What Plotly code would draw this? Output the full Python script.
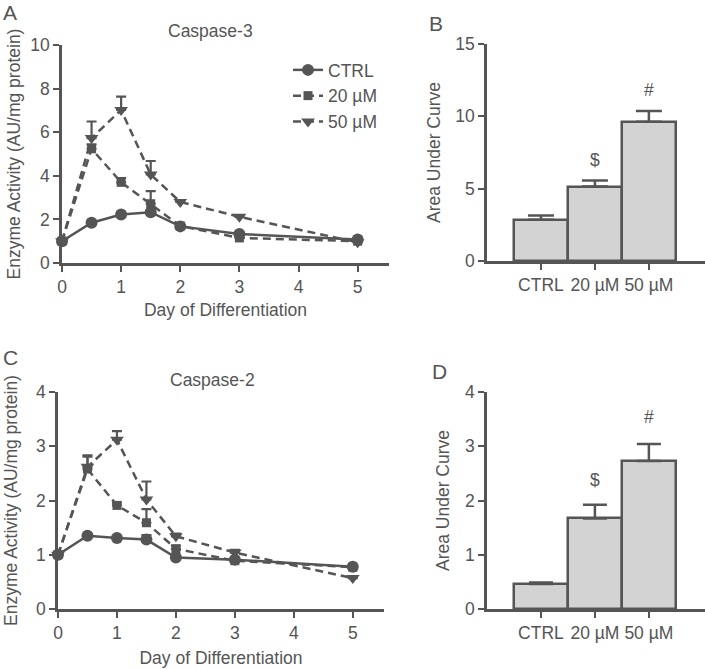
import plotly.graph_objects as go

# ---------------- data ----------------
days = [0, 0.5, 1, 1.5, 2, 3, 5]

# Panel A: Caspase-3 enzyme activity
casp3_ctrl = [1.0, 1.85, 2.22, 2.33, 1.68, 1.33, 1.08]
casp3_ctrl_err = [0.1, 0.08, 0.08, 0.1, 0.06, 0.05, 0.05]
casp3_20 = [1.0, 5.24, 3.70, 2.72, 1.70, 1.15, 1.0]
casp3_20_err = [0.05, 0.2, 0.2, 0.58, 0.05, 0.05, 0.05]
casp3_50 = [1.0, 5.73, 7.02, 4.06, 2.80, 2.12, 0.95]
casp3_50_err = [0.05, 0.76, 0.61, 0.62, 0.08, 0.08, 0.05]

# Panel C: Caspase-2 enzyme activity
casp2_ctrl = [1.0, 1.35, 1.31, 1.28, 0.95, 0.91, 0.78]
casp2_ctrl_err = [0.02, 0.03, 0.03, 0.08, 0.03, 0.03, 0.03]
casp2_20 = [1.0, 2.58, 1.91, 1.59, 1.11, 0.89, 0.77]
casp2_20_err = [0.02, 0.23, 0.05, 0.25, 0.06, 0.04, 0.03]
casp2_50 = [1.0, 2.62, 3.12, 2.02, 1.34, 1.04, 0.57]
casp2_50_err = [0.02, 0.21, 0.16, 0.33, 0.05, 0.05, 0.03]

# Panels B and D: area under curve
groups = ["CTRL", "20 µM", "50 µM"]
auc3 = [2.85, 5.15, 9.62]
auc3_err = [0.3, 0.42, 0.75]
auc3_sig = ["", "$", "#"]
auc3_sig_y = [0, 7.0, 11.8]
auc2 = [0.46, 1.67, 2.73]
auc2_err = [0.03, 0.25, 0.31]
auc2_sig = ["", "$", "#"]
auc2_sig_y = [0, 2.37, 3.54]

series_names = ["CTRL", "20 µM", "50 µM"]

# ---------------- style ----------------
INK = "#555555"
TXT = "#555555"
FONT = "Liberation Sans, Arial, sans-serif"
FS = 17.5

fig = go.Figure()

markers = {"CTRL": ("circle", 12), "20 µM": ("square", 9), "50 µM": ("triangle-down", 12)}
dashes = {"CTRL": "solid", "20 µM": "8px,5px", "50 µM": "8px,5px"}
ranks = {"CTRL": 1, "20 µM": 2, "50 µM": 3}


def add_lines(xa, ya, vals, errs, show_legend):
    # draw 50 first, CTRL on top
    for name in ["50 µM", "20 µM", "CTRL"]:
        sym, sz = markers[name]
        fig.add_trace(go.Scatter(
            x=days, y=vals[name], name=name, xaxis=xa, yaxis=ya,
            mode="lines+markers",
            line=dict(color=INK, width=2.5, dash=dashes[name]),
            marker=dict(symbol=sym, size=sz, color=INK),
            error_y=dict(type="data", array=errs[name], symmetric=False,
                         arrayminus=[0] * len(days), color=INK, thickness=2.2, width=5),
            cliponaxis=False, showlegend=show_legend, legendrank=ranks[name],
        ))


add_lines("x", "y",
          {"CTRL": casp3_ctrl, "20 µM": casp3_20, "50 µM": casp3_50},
          {"CTRL": casp3_ctrl_err, "20 µM": casp3_20_err, "50 µM": casp3_50_err}, True)
add_lines("x3", "y3",
          {"CTRL": casp2_ctrl, "20 µM": casp2_20, "50 µM": casp2_50},
          {"CTRL": casp2_ctrl_err, "20 µM": casp2_20_err, "50 µM": casp2_50_err}, False)


def add_bars(xa, ya, vals, errs, cap):
    fig.add_trace(go.Bar(
        x=[0, 1, 2], y=vals, xaxis=xa, yaxis=ya, width=1,
        marker=dict(color="#d3d3d3", line=dict(color=INK, width=2.5)),
        error_y=dict(type="data", array=errs, symmetric=False, arrayminus=[0, 0, 0],
                     color=INK, thickness=2.5, width=cap),
        showlegend=False, cliponaxis=False,
    ))


add_bars("x2", "y2", auc3, auc3_err, 13)
add_bars("x4", "y4", auc2, auc2_err, 12)

# ---------------- axes ----------------
W, H = 705, 669


def px_x(a, b):
    return [a / W, b / W]


def px_y(top, bottom):
    return [1 - bottom / H, 1 - top / H]


common = dict(showline=True, linecolor=INK, linewidth=2.5, ticks="outside", tickcolor=INK,
              tickwidth=2, ticklen=6, showgrid=False, zeroline=False, automargin=False,
              tickfont=dict(family=FONT, size=FS, color=TXT))
title_font = dict(family=FONT, size=FS, color=TXT)

fig.update_layout(
    xaxis=dict(common, domain=px_x(62, 389), range=[0, 5.53], tickvals=[0, 1, 2, 3, 4, 5],
               anchor="y", title=dict(text="Day of Differentiation", font=title_font, standoff=8)),
    yaxis=dict(common, domain=px_y(45, 263), range=[0, 10], tickvals=[0, 2, 4, 6, 8, 10],
               anchor="x", title=dict(text="Enzyme Activity (AU/mg protein)", font=title_font, standoff=6)),
    xaxis2=dict(common, domain=px_x(487, 705), range=[-1, 3.04], tickvals=[0, 1, 2],
                ticktext=groups, anchor="y2"),
    yaxis2=dict(common, domain=px_y(44, 261), range=[0, 15], tickvals=[0, 5, 10, 15],
                anchor="x2", title=dict(text="Area Under Curve", font=title_font, standoff=11)),
    xaxis3=dict(common, domain=px_x(58, 384), range=[0, 5.53], tickvals=[0, 1, 2, 3, 4, 5],
                anchor="y3", title=dict(text="Day of Differentiation", font=title_font, standoff=10)),
    yaxis3=dict(common, domain=px_y(392, 609), range=[0, 4], tickvals=[0, 1, 2, 3, 4],
                anchor="x3", title=dict(text="Enzyme Activity (AU/mg protein)", font=title_font, standoff=14)),
    xaxis4=dict(common, domain=px_x(487, 705), range=[-1, 3.04], tickvals=[0, 1, 2],
                ticktext=groups, anchor="y4"),
    yaxis4=dict(common, domain=px_y(392, 609), range=[0, 4], tickvals=[0, 1, 2, 3, 4],
                anchor="x4", title=dict(text="Area Under Curve", font=title_font, standoff=11)),
    width=W, height=H,
    margin=dict(l=0, r=0, t=0, b=0),
    paper_bgcolor="white", plot_bgcolor="white",
    font=dict(family=FONT, size=FS, color=TXT),
    bargap=0,
    legend=dict(x=288 / W, y=1 - 52 / H, xanchor="left", yanchor="top",
                font=dict(family=FONT, size=FS, color=TXT), bgcolor="rgba(0,0,0,0)",
                traceorder="normal", tracegroupgap=0),
)

annotations = []
# significance markers
for i, (s, yv) in enumerate(zip(auc3_sig, auc3_sig_y)):
    if s:
        annotations.append(dict(x=i, y=yv, xref="x2", yref="y2", text=s, showarrow=False,
                                font=dict(family=FONT, size=FS, color=TXT)))
for i, (s, yv) in enumerate(zip(auc2_sig, auc2_sig_y)):
    if s:
        annotations.append(dict(x=i, y=yv, xref="x4", yref="y4", text=s, showarrow=False,
                                font=dict(family=FONT, size=FS, color=TXT)))

# panel titles and letters (pixel positions)
def pa(text, x, y, size):
    return dict(x=x / W, y=1 - y / H, xref="paper", yref="paper", text=text, showarrow=False,
                xanchor="center", yanchor="middle", font=dict(family=FONT, size=size, color=TXT))


annotations += [
    pa("Caspase-3", 210, 31, FS),
    pa("Caspase-2", 212, 380, FS),
    pa("A", 10, 12, 21),
    pa("B", 436, 23, 21),
    pa("C", 10, 357, 21),
    pa("D", 439, 371, 21),
]
fig.update_layout(annotations=annotations)

fig.write_html("out.html", config={"displayModeBar": False},
               post_script="document.body.style.margin='0';document.body.style.overflow='hidden';")
